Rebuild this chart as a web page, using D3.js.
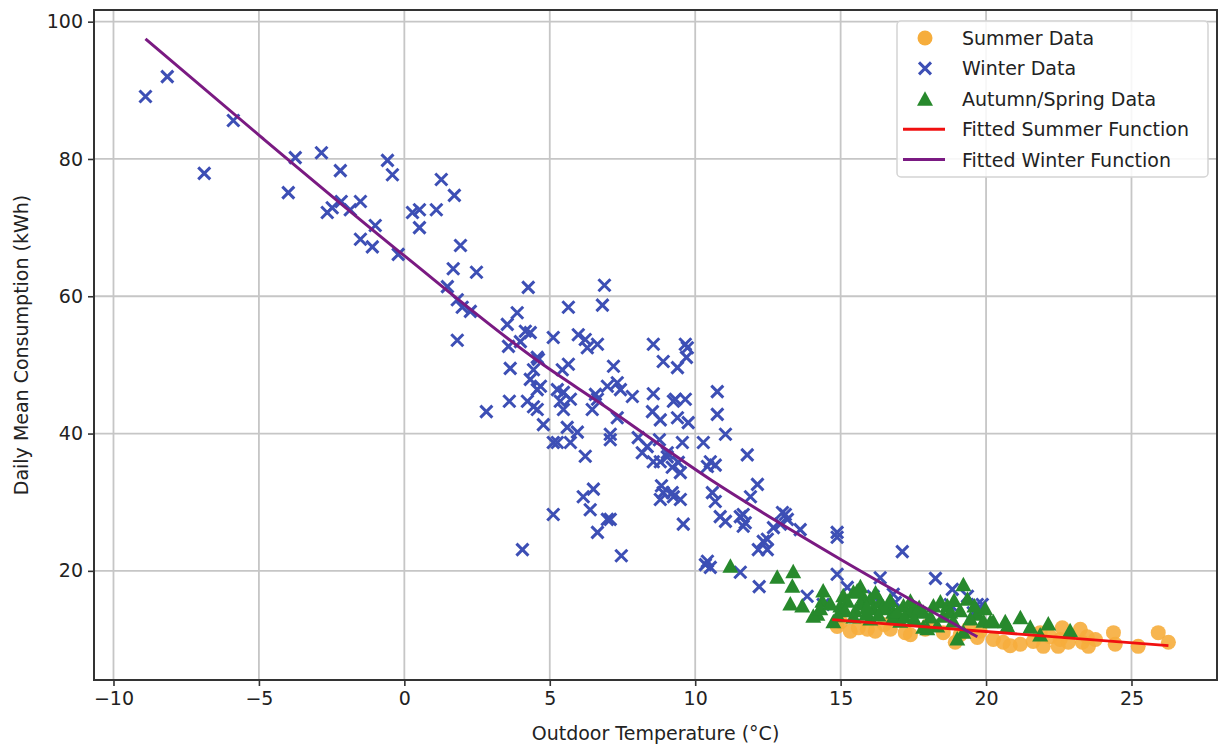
<!DOCTYPE html>
<html lang="en">
<head>
<meta charset="utf-8">
<title>Consumption vs Temperature</title>
<script src="https://d3js.org/d3.v7.min.js"></script>
<style>
body { margin: 0; background: #fff; }
text { font-family: "DejaVu Sans", sans-serif; fill: #222; }
</style>
</head>
<body>
<div id="chart"></div>
<script>
// data: [temperature °C, consumption kWh]
var summerData = [[14.88,11.9],[15.33,11.2],[15.61,11.7],[15.92,11.5],[16.19,11.2],[16.71,11.5],[17.22,11.0],[17.40,10.7],
  [17.91,11.5],[18.53,11.0],[18.94,9.6],[19.11,10.7],[19.70,10.3],[19.80,11.2],[20.25,10.0],[20.59,9.6],[20.83,9.1],
  [21.18,9.3],[21.62,9.7],[21.86,11.0],[21.97,9.0],[22.21,10.4],[22.48,9.0],[22.62,11.7],[22.55,10.0],[22.83,9.6],
  [23.24,11.5],[23.31,9.6],[23.48,10.4],[23.52,9.0],[23.76,10.0],[24.38,11.0],[24.44,9.3],[25.23,9.0],[25.92,11.0],
  [26.27,9.6],[15.0,12.6],[16.5,12.2],[18.0,12.0],[19.4,11.6]]

var winterData = [[-8.90,89.1],[-8.15,92.0],[-5.88,85.6],[-6.88,77.9],[-3.99,75.1],[-3.75,80.2],[-2.85,80.9],[-2.20,78.3],
  [-2.65,72.2],[-2.48,72.9],[-2.17,73.8],[-1.86,72.6],[-1.51,73.8],[-1.00,70.3],[-1.51,68.3],[-1.10,67.2],[-0.58,79.8],
  [-0.41,77.7],[-0.21,66.1],[0.28,72.2],[0.52,72.6],[0.52,70.0],[1.10,72.6],[1.27,77.0],[1.72,74.7],[1.93,67.4],
  [1.68,64.0],[2.48,63.5],[1.48,61.4],[1.82,59.5],[1.99,58.4],[2.27,57.8],[1.82,53.6],[4.26,61.3],[3.88,57.6],
  [3.54,55.9],[4.16,54.9],[4.33,54.7],[3.58,52.7],[3.99,53.4],[5.12,54.0],[4.57,51.1],[3.64,49.5],[3.61,44.7],
  [4.23,44.7],[2.82,43.2],[4.44,49.3],[4.44,43.9],[4.33,47.9],[4.68,46.9],[4.57,46.4],[4.61,50.8],[5.26,46.4],
  [4.78,41.3],[4.57,43.5],[4.06,23.1],[5.12,38.7],[5.26,38.7],[5.12,28.2],[6.88,61.6],[5.64,58.4],[6.81,58.7],
  [5.98,54.4],[6.22,53.7],[6.64,53.0],[6.29,52.5],[5.64,50.1],[5.43,49.3],[7.19,49.8],[5.47,46.0],[5.71,45.0],
  [5.36,44.7],[6.57,45.7],[6.64,45.0],[6.98,46.9],[7.32,47.4],[5.47,43.5],[6.46,43.5],[5.60,40.9],[7.32,42.3],
  [7.08,39.1],[5.71,38.7],[5.95,40.2],[6.22,36.7],[6.50,31.9],[6.15,30.8],[6.39,28.9],[6.64,25.6],[6.98,27.5],
  [7.46,22.2],[7.08,39.9],[7.08,27.5],[8.56,53.0],[9.66,53.0],[9.70,51.1],[8.90,50.5],[9.39,49.6],[9.73,52.5],
  [7.43,46.4],[7.84,45.4],[8.56,45.8],[9.32,45.0],[9.66,45.0],[9.25,44.7],[8.53,43.2],[9.39,42.3],[9.76,41.6],
  [8.80,42.0],[8.04,39.4],[8.35,38.1],[8.77,39.1],[9.04,37.2],[9.56,38.7],[8.18,37.2],[8.56,35.9],[8.80,35.9],
  [9.04,36.6],[9.21,35.1],[9.42,35.8],[9.49,34.3],[8.84,32.4],[8.90,31.4],[9.21,31.4],[9.25,30.8],[9.49,30.4],
  [8.80,30.4],[9.59,26.8],[10.42,35.2],[10.35,20.9],[10.76,46.1],[10.76,42.8],[11.04,39.9],[10.28,38.7],
  [10.52,35.9],[10.69,35.4],[11.79,36.9],[10.59,31.4],[10.69,30.1],[10.86,27.9],[11.04,27.2],[11.55,27.9],
  [11.72,27.0],[12.14,32.6],[11.90,30.8],[12.34,24.3],[12.48,23.1],[12.17,23.1],[12.69,26.3],[13.00,28.5],
  [13.17,27.5],[13.61,26.0],[10.42,21.4],[10.52,20.5],[11.65,28.2],[11.65,26.5],[13.10,28.2],[12.93,26.8],
  [12.48,24.6],[11.55,19.8],[12.20,17.7],[13.85,16.3],[14.40,15.1],[14.88,25.6],[14.88,24.9],[14.88,19.5],
  [15.23,17.6],[16.12,16.3],[16.36,19.0],[16.81,16.6],[16.88,15.4],[17.12,22.8],[18.26,18.9],[18.84,17.3],
  [19.36,16.3],[19.70,15.1],[19.56,13.9],[18.77,15.1],[19.87,15.1]]

var autumnData = [[11.21,20.6],[12.82,19.0],[13.37,19.8],[13.34,17.7],[13.27,15.1],[13.68,14.8],[14.40,17.0],[14.37,15.5],
  [14.20,13.6],[14.75,12.5],[15.09,16.3],[14.99,14.8],[15.44,16.8],[15.68,17.6],[15.78,16.1],[15.68,15.1],[15.51,14.1],
  [15.44,13.2],[16.02,15.8],[16.12,14.4],[16.36,15.4],[16.61,14.4],[16.81,13.9],[16.81,13.2],[17.16,14.8],[17.50,14.1],
  [17.84,13.9],[17.84,11.7],[18.19,14.8],[18.32,11.9],[18.43,15.4],[18.67,14.8],[18.77,13.9],[19.22,17.9],[19.36,15.8],
  [19.70,13.6],[19.46,12.9],[18.87,12.6],[19.22,11.0],[19.01,10.0],[19.91,12.6],[20.25,12.5],[20.66,12.5],[21.18,13.1],
  [21.52,11.7],[21.86,10.6],[22.89,11.2],[16.02,12.9],[17.05,12.6],[17.98,11.5],[15.23,15.5],[15.57,17.0],[16.47,14.7],
  [16.95,13.9],[17.39,13.9],[14.06,13.3],[14.30,14.4],[20.15,12.5],[14.65,15.1],[15.16,14.1],[15.88,13.6],[16.30,13.5],
  [17.19,13.2],[17.53,12.9],[18.09,13.2],[18.53,13.3],[19.11,14.1],[19.97,14.4],[20.73,11.9],[22.14,12.2],
  [15.9,14.6],[16.7,15.6],[17.7,14.6],[18.9,15.6],[16.2,16.7],[17.4,15.5],[14.9,13.4],[19.6,14.8]]

// fitted curves
var summerFit = [[14.71,12.9],[26.27,9.1]]
var winterFit = [[-8.90,97.5],[-4.95,83.3],[0.03,65.8],[4.68,50.3],[6.74,44.4],[10.52,33.3],[14.99,21.7],[19.70,10.4]]

var xTicks = [-10,-5,0,5,10,15,20,25]
var yTicks = [20,40,60,80,100]

var legendItems = [
  {label:"Summer Data", kind:"circle"},
  {label:"Winter Data", kind:"cross"},
  {label:"Autumn/Spring Data", kind:"triangle"},
  {label:"Fitted Summer Function", kind:"redline"},
  {label:"Fitted Winter Function", kind:"purpleline"}
]

var w = 1219
var h = 745
var mLeft = 94, mRight = 1217, mTop = 10, mBottom = 680

var colSummer = "#f6ad3c"
var colWinter = "#3d4fb5"
var colAutumn = "#27892c"
var crossPath = "M-6,-6L6,6M-6,6L6,-6"
var triPath = "M0,-8.5L8,6L-8,6Z"

var svg = d3.select("#chart").append("svg")
  .attr("width", w)
  .attr("height", h)

var xScale = d3.scaleLinear().domain([-10.67, 27.94]).range([mLeft, mRight])
var yScale = d3.scaleLinear().domain([4.1, 101.7]).range([mBottom, mTop])

var fmt = function(d){ return d < 0 ? "\u2212" + Math.abs(d) : d }

// grid
svg.append("g").selectAll("line").data(xTicks).enter().append("line")
  .attr("x1", d => xScale(d)).attr("x2", d => xScale(d))
  .attr("y1", mTop).attr("y2", mBottom)
  .attr("stroke", "#c6c6c6").attr("stroke-width", 1.8)
svg.append("g").selectAll("line").data(yTicks).enter().append("line")
  .attr("y1", d => yScale(d)).attr("y2", d => yScale(d))
  .attr("x1", mLeft).attr("x2", mRight)
  .attr("stroke", "#c6c6c6").attr("stroke-width", 1.8)

var plot = svg.append("g")

// summer circles
plot.selectAll(".summer").data(summerData).enter().append("circle")
  .attr("class", "summer")
  .attr("cx", d => xScale(d[0])).attr("cy", d => yScale(d[1]))
  .attr("r", 7.5)
  .attr("fill", colSummer).attr("opacity", 0.9)

// winter crosses
plot.selectAll(".winter").data(winterData).enter().append("path")
  .attr("class", "winter")
  .attr("transform", d => "translate(" + xScale(d[0]) + "," + yScale(d[1]) + ")")
  .attr("d", crossPath)
  .attr("stroke", colWinter).attr("stroke-width", 3).attr("fill", "none")

// autumn/spring triangles
plot.selectAll(".autumn").data(autumnData).enter().append("path")
  .attr("class", "autumn")
  .attr("transform", d => "translate(" + xScale(d[0]) + "," + yScale(d[1]) + ")")
  .attr("d", triPath)
  .attr("fill", colAutumn)

var line = d3.line().x(d => xScale(d[0])).y(d => yScale(d[1]))

plot.append("path").datum(summerFit)
  .attr("d", line)
  .attr("fill", "none").attr("stroke", "#f01010").attr("stroke-width", 2.8)

plot.append("path").datum(winterFit)
  .attr("d", line.curve(d3.curveMonotoneX))
  .attr("fill", "none").attr("stroke", "#7a1a82").attr("stroke-width", 3)

// frame
svg.append("rect")
  .attr("x", mLeft).attr("y", mTop)
  .attr("width", mRight - mLeft).attr("height", mBottom - mTop)
  .attr("fill", "none").attr("stroke", "#333").attr("stroke-width", 2)

// axes
var xAxis = d3.axisBottom(xScale).tickValues(xTicks).tickSize(6).tickPadding(6).tickFormat(fmt)
var yAxis = d3.axisLeft(yScale).tickValues(yTicks).tickSize(6).tickPadding(5)

var gx = svg.append("g").attr("transform", "translate(0," + mBottom + ")").call(xAxis)
var gy = svg.append("g").attr("transform", "translate(" + mLeft + ",0)").call(yAxis)
;[gx, gy].forEach(function(g){
  g.select(".domain").remove()
  g.selectAll(".tick line").attr("stroke", "#333").attr("stroke-width", 1.6)
  g.selectAll(".tick text").attr("fill", "#222")
    .style("font-family", "DejaVu Sans").style("font-size", "19px")
})

svg.append("text")
  .attr("x", (mLeft + mRight) / 2).attr("y", 740)
  .attr("text-anchor", "middle")
  .style("font-size", "19px")
  .text("Outdoor Temperature (°C)")

svg.append("text")
  .attr("transform", "translate(28," + ((mTop + mBottom) / 2) + ") rotate(-90)")
  .attr("text-anchor", "middle")
  .style("font-size", "19px")
  .text("Daily Mean Consumption (kWh)")

// legend
var lg = svg.append("g").attr("transform", "translate(897,21)")
lg.append("rect")
  .attr("width", 311).attr("height", 156).attr("rx", 4)
  .attr("fill", "#fff").attr("fill-opacity", 0.85)
  .attr("stroke", "#d4d4d4").attr("stroke-width", 1.5)

var rows = lg.selectAll(".row").data(legendItems).enter().append("g")
  .attr("transform", (d, i) => "translate(0," + (17 + i * 30.4) + ")")

rows.each(function(d){
  var g = d3.select(this)
  if (d.kind == "circle") {
    g.append("circle").attr("cx", 28).attr("cy", 0).attr("r", 7.5).attr("fill", colSummer)
  } else if (d.kind == "cross") {
    g.append("path").attr("transform", "translate(28,0)")
      .attr("d", crossPath)
      .attr("stroke", colWinter).attr("stroke-width", 3)
  } else if (d.kind == "triangle") {
    g.append("path").attr("transform", "translate(28,1)")
      .attr("d", triPath).attr("fill", colAutumn)
  } else {
    g.append("line").attr("x1", 6).attr("x2", 48).attr("y1", 0).attr("y2", 0)
      .attr("stroke", d.kind == "redline" ? "#f01010" : "#7a1a82").attr("stroke-width", 3)
  }
})

rows.append("text")
  .attr("x", 65).attr("y", 7)
  .style("font-size", "19px")
  .text(d => d.label)
</script>
</body>
</html>
